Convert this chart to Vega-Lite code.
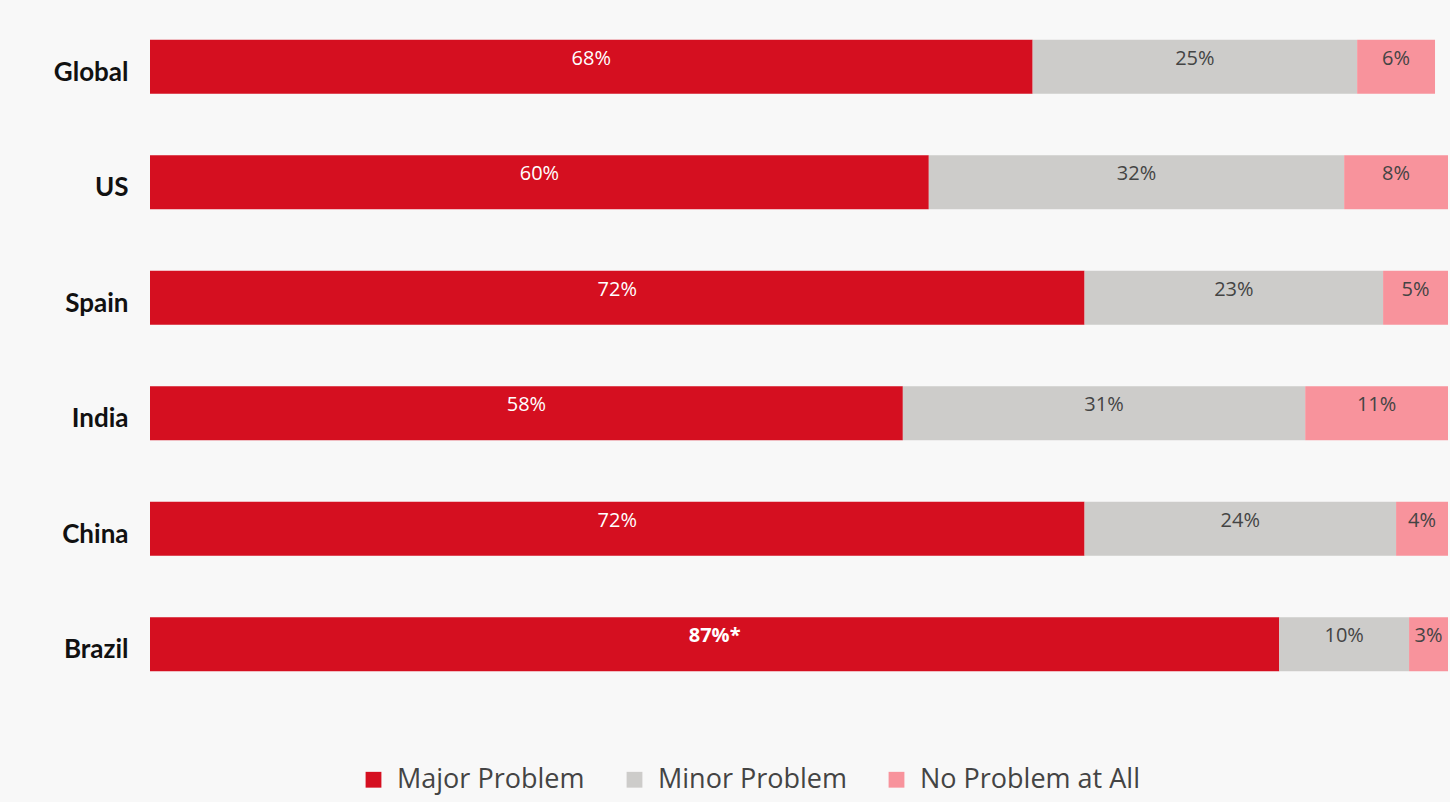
{
  "$schema": "https://vega.github.io/schema/vega-lite/v6.json",
  "autosize": {"type": "none"},
  "width": 1298,
  "height": 693,
  "padding": {"left": 150, "top": 9, "right": 2, "bottom": 100},
  "background": "#f8f8f8",
  "config": {"view": {"stroke": null}, "font": "Open Sans"},
  "data": {"values": [
    {"country": "Global", "category": "Major Problem", "order": 1, "value": 68, "label": "68%"},
    {"country": "Global", "category": "Minor Problem", "order": 2, "value": 25, "label": "25%"},
    {"country": "Global", "category": "No Problem at All", "order": 3, "value": 6, "label": "6%"},
    {"country": "US", "category": "Major Problem", "order": 1, "value": 60, "label": "60%"},
    {"country": "US", "category": "Minor Problem", "order": 2, "value": 32, "label": "32%"},
    {"country": "US", "category": "No Problem at All", "order": 3, "value": 8, "label": "8%"},
    {"country": "Spain", "category": "Major Problem", "order": 1, "value": 72, "label": "72%"},
    {"country": "Spain", "category": "Minor Problem", "order": 2, "value": 23, "label": "23%"},
    {"country": "Spain", "category": "No Problem at All", "order": 3, "value": 5, "label": "5%"},
    {"country": "India", "category": "Major Problem", "order": 1, "value": 58, "label": "58%"},
    {"country": "India", "category": "Minor Problem", "order": 2, "value": 31, "label": "31%"},
    {"country": "India", "category": "No Problem at All", "order": 3, "value": 11, "label": "11%"},
    {"country": "China", "category": "Major Problem", "order": 1, "value": 72, "label": "72%"},
    {"country": "China", "category": "Minor Problem", "order": 2, "value": 24, "label": "24%"},
    {"country": "China", "category": "No Problem at All", "order": 3, "value": 4, "label": "4%"},
    {"country": "Brazil", "category": "Major Problem", "order": 1, "value": 87, "label": "87%*"},
    {"country": "Brazil", "category": "Minor Problem", "order": 2, "value": 10, "label": "10%"},
    {"country": "Brazil", "category": "No Problem at All", "order": 3, "value": 3, "label": "3%"}
  ]},
  "transform": [
    {"stack": "value", "groupby": ["country"], "sort": [{"field": "order", "order": "ascending"}], "as": ["x0", "x1"]},
    {"calculate": "(datum.x0 + datum.x1) / 2", "as": "xmid"}
  ],
  "encoding": {
    "y": {
      "field": "country", "type": "nominal",
      "sort": ["Global", "US", "Spain", "India", "China", "Brazil"],
      "title": null,
      "axis": {
        "domain": false, "ticks": false, "labelPadding": 22,
        "labelFont": "Lato", "labelFontSize": 26, "labelFontWeight": "bold",
        "labelColor": "#111111", "labelOffset": 6
      }
    }
  },
  "layer": [
    {
      "mark": {"type": "bar", "size": 54},
      "encoding": {
        "x": {"field": "x0", "type": "quantitative", "scale": {"domain": [0, 100], "nice": false}, "axis": null},
        "x2": {"field": "x1"},
        "color": {
          "field": "category", "type": "nominal",
          "scale": {
            "domain": ["Major Problem", "Minor Problem", "No Problem at All"],
            "range": ["#d50f20", "#cdccca", "#f8939c"]
          },
          "legend": {
            "title": null, "orient": "none", "direction": "horizontal",
            "legendX": 210, "legendY": 757,
            "symbolType": "square", "symbolSize": 250, "symbolStrokeWidth": 0,
            "labelFont": "Open Sans", "labelFontSize": 27, "labelColor": "#444444",
            "labelLimit": 400, "columnPadding": 36, "labelOffset": 10
          }
        }
      }
    },
    {
      "transform": [{"filter": "indexof(datum.label, '*') < 0"}],
      "mark": {"type": "text", "fontSize": 20, "baseline": "middle", "dy": -8},
      "encoding": {
        "x": {"field": "xmid", "type": "quantitative"},
        "text": {"field": "label"},
        "color": {
          "condition": {"test": "datum.category === 'Major Problem'", "value": "#ffffff"},
          "value": "#444444"
        }
      }
    },
    {
      "transform": [{"filter": "indexof(datum.label, '*') >= 0"}],
      "mark": {"type": "text", "fontSize": 20, "fontWeight": "bold", "baseline": "middle", "dy": -8, "color": "#ffffff"},
      "encoding": {
        "x": {"field": "xmid", "type": "quantitative"},
        "text": {"field": "label"}
      }
    }
  ]
}
